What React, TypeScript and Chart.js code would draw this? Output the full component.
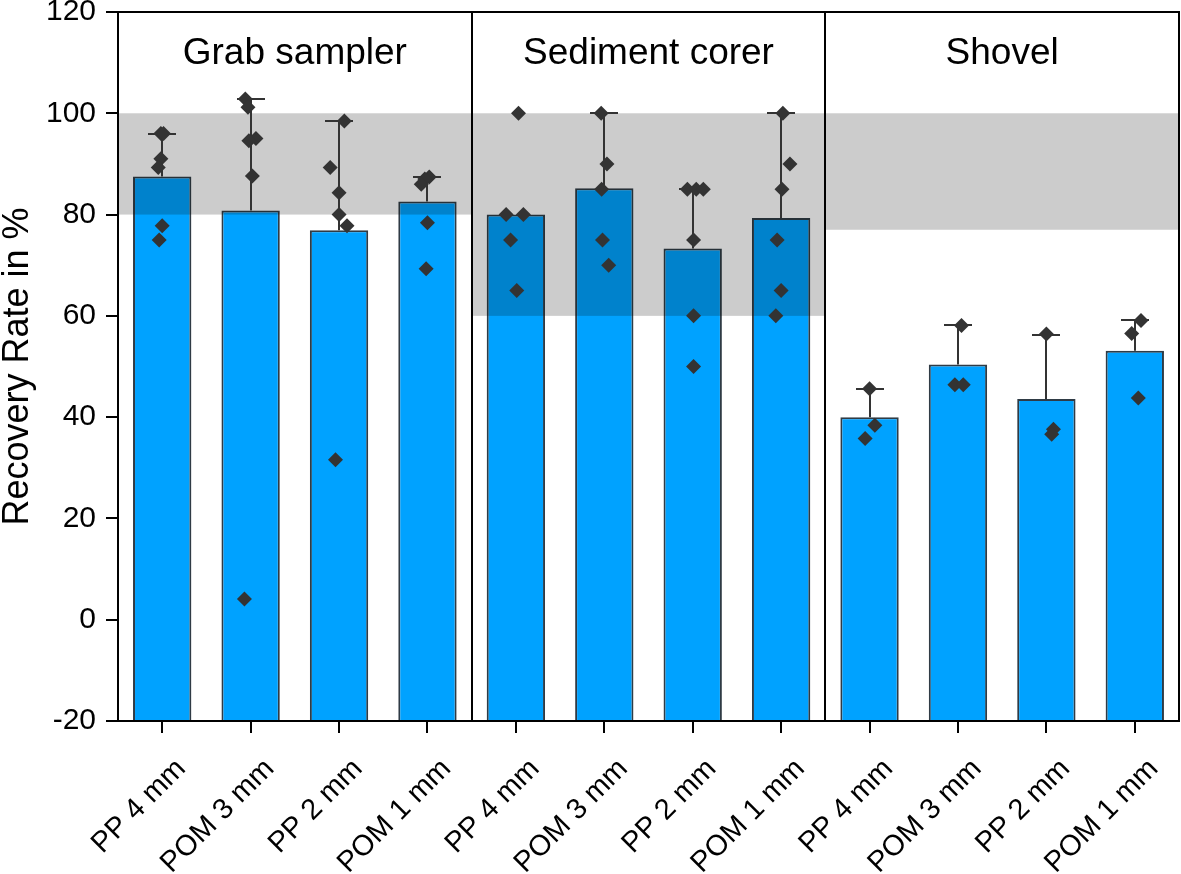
import React, { useEffect, useRef } from 'react';
import { Chart, registerables } from 'chart.js';

Chart.register(...registerables);

const categories = [
  'PP 4 mm', 'POM 3 mm', 'PP 2 mm', 'POM 1 mm',
  'PP 4 mm', 'POM 3 mm', 'PP 2 mm', 'POM 1 mm',
  'PP 4 mm', 'POM 3 mm', 'PP 2 mm', 'POM 1 mm',
];
const groupNames = ['Grab sampler', 'Sediment corer', 'Shovel'];
const meanValues = [87.5, 80.8, 76.9, 82.6, 80.0, 85.2, 73.3, 79.3, 40.0, 50.4, 43.6, 53.1];
const errorTops: (number | null)[] = [96, 102.8, 98.5, 87.5, null, 100, 85, 100, 45.6, 58.1, 56.3, 59.1];
const bandLow = [80, 60, 77];
const bandHigh = [100, 100, 100];
const yTicks = [-20, 0, 20, 40, 60, 80, 100, 120];

const replicateValues = [
  [96, 96, 91, 89.3, 77.8, 75],
  [102.8, 101.2, 95, 94.6, 87.6, 4.1],
  [98.5, 89.3, 84.3, 80, 77.8, 31.6],
  [87.4, 87, 86, 78.4, 69.3],
  [100, 80, 80, 75, 65],
  [100, 90, 85, 75, 70],
  [85, 85, 85, 75, 60, 50],
  [100, 90, 85, 75, 65, 60],
  [45.6, 38.4, 35.8],
  [58.1, 46.4, 46.4],
  [56.4, 37.6, 36.6],
  [59.1, 56.5, 43.8],
];
const replicateJitter = [
  [-0.015, 0.015, -0.015, -0.045, 0, -0.034],
  [-0.06, -0.03, 0.06, -0.02, 0.02, -0.07],
  [0.06, -0.1, 0, 0, 0.09, -0.04],
  [0.02, -0.03, -0.07, 0, -0.015],
  [0.03, -0.11, 0.085, -0.06, 0.01],
  [-0.035, 0.03, -0.03, -0.02, 0.05],
  [-0.06, 0.04, 0.12, 0.01, 0.01, 0.01],
  [0.02, 0.1, 0.01, -0.045, 0, -0.06],
  [0, 0.06, -0.05],
  [0.04, -0.035, 0.06],
  [0, 0.08, 0.06],
  [0.07, -0.035, 0.04],
];

const FONT = '"Liberation Sans", Arial, Helvetica, sans-serif';

export default function App() {
  const ref = useRef<HTMLCanvasElement>(null);

  useEffect(() => {
    const canvas = ref.current;
    if (!canvas) return;
    Chart.defaults.font.family = FONT;

    const barData = meanValues.map((v, i) => ({ x: i, y: v }));
    const scatterData: { x: number; y: number }[] = [];
    replicateValues.forEach((vals, i) =>
      vals.forEach((v, j) => scatterData.push({ x: i + replicateJitter[i][j], y: v }))
    );

    const groupSpan = (chart: any, g: number) => {
      const xs = chart.scales.x;
      const { chartArea } = chart;
      const x0 = g === 0 ? chartArea.left : xs.getPixelForValue(g * 4 - 0.5);
      const x1 = g === 2 ? chartArea.right : xs.getPixelForValue(g * 4 + 3.5);
      return [x0, x1];
    };

    const overlay = {
      id: 'overlay',
      afterDatasetDraw(chart: any, args: any) {
        if (args.index !== 0) return;
        const { ctx } = chart;
        const xs = chart.scales.x;
        const ys = chart.scales.y;
        ctx.save();
        ctx.globalCompositeOperation = 'multiply';
        ctx.fillStyle = '#cccccc';
        for (let g = 0; g < 3; g++) {
          const [x0, x1] = groupSpan(chart, g);
          const y0 = ys.getPixelForValue(bandHigh[g]);
          const y1 = ys.getPixelForValue(bandLow[g]);
          ctx.fillRect(x0, y0, x1 - x0, y1 - y0);
        }
        ctx.restore();

        ctx.save();
        ctx.strokeStyle = '#333333';
        ctx.lineWidth = 2;
        errorTops.forEach((t, i) => {
          if (t == null) return;
          const x = Math.round(xs.getPixelForValue(i));
          const yb = ys.getPixelForValue(meanValues[i]);
          const yt = Math.round(ys.getPixelForValue(t));
          ctx.beginPath();
          ctx.moveTo(x, yb);
          ctx.lineTo(x, yt);
          ctx.moveTo(x - 14, yt);
          ctx.lineTo(x + 14, yt);
          ctx.stroke();
        });
        ctx.restore();
      },
      afterDraw(chart: any) {
        const { ctx, chartArea } = chart;
        const xs = chart.scales.x;
        ctx.save();
        ctx.strokeStyle = '#000000';
        ctx.lineWidth = 2;
        ctx.beginPath();
        ctx.moveTo(chartArea.left, chartArea.top);
        ctx.lineTo(chartArea.right, chartArea.top);
        ctx.lineTo(chartArea.right, chartArea.bottom);
        for (const v of [3.5, 7.5]) {
          const x = Math.round(xs.getPixelForValue(v));
          ctx.moveTo(x, chartArea.top);
          ctx.lineTo(x, chartArea.bottom);
        }
        ctx.stroke();
        ctx.fillStyle = '#000000';
        ctx.font = `37px ${FONT}`;
        ctx.textAlign = 'center';
        ctx.textBaseline = 'middle';
        groupNames.forEach((name, g) => {
          const [x0, x1] = groupSpan(chart, g);
          ctx.fillText(name, (x0 + x1) / 2, chartArea.top + 42);
        });
        ctx.restore();
      },
    };

    const chart = new Chart(canvas, {
      type: 'bar',
      data: {
        datasets: [
          {
            type: 'bar',
            data: barData,
            base: -20,
            backgroundColor: '#00A2FF',
            borderColor: '#2f3b45',
            borderWidth: 2,
            barPercentage: 0.66,
            categoryPercentage: 1,
            order: 2,
          } as any,
          {
            type: 'scatter',
            data: scatterData,
            pointStyle: 'rectRot',
            pointRadius: 7.5,
            pointBackgroundColor: '#333333',
            pointBorderWidth: 0,
            order: 1,
          } as any,
        ],
      },
      options: {
        responsive: false,
        animation: false,
        devicePixelRatio: 1,
        layout: { autoPadding: false, padding: { top: 12, right: 2, left: 0, bottom: 0 } },
        plugins: { legend: { display: false }, tooltip: { enabled: false } },
        scales: {
          x: {
            type: 'linear',
            min: -0.5,
            max: 11.5,
            offset: false,
            afterBuildTicks: (s: any) => { s.ticks = categories.map((_, i) => ({ value: i })); },
            grid: { display: true, drawOnChartArea: false, drawTicks: true, tickLength: 12, color: '#000', lineWidth: 2, offset: false },
            border: { display: true, color: '#000', width: 2 },
            ticks: {
              color: '#000',
              font: { size: 29 },
              maxRotation: 45,
              minRotation: 45,
              padding: 19,
              labelOffset: 19,
              autoSkip: false,
              callback: (v: any) => categories[v as number] ?? '',
            },
            afterFit: (s: any) => { s.height = 153; s.paddingLeft = 0; s.paddingRight = 0; },
          },
          y: {
            type: 'linear',
            min: -20,
            max: 120,
            afterBuildTicks: (s: any) => { s.ticks = yTicks.map((v) => ({ value: v })); },
            grid: { display: true, drawOnChartArea: false, drawTicks: true, tickLength: 12, color: '#000', lineWidth: 2 },
            border: { display: true, color: '#000', width: 2 },
            ticks: { color: '#000', font: { size: 30 }, padding: 10 },
            title: { display: true, text: 'Recovery Rate in %', color: '#000', font: { size: 36, lineHeight: 1.0 }, padding: 0 },
            afterFit: (s: any) => { s.width = 118; s.paddingTop = 0; s.paddingBottom = 0; },
          },
        },
      } as any,
      plugins: [overlay],
    });
    return () => chart.destroy();
  }, []);

  return (
    <div style={{ position: 'absolute', left: 0, top: 0, width: 1181, height: 874, background: '#fff' }}>
      <canvas ref={ref} width={1181} height={874} style={{ display: 'block', width: 1181, height: 874 }} />
    </div>
  );
}
